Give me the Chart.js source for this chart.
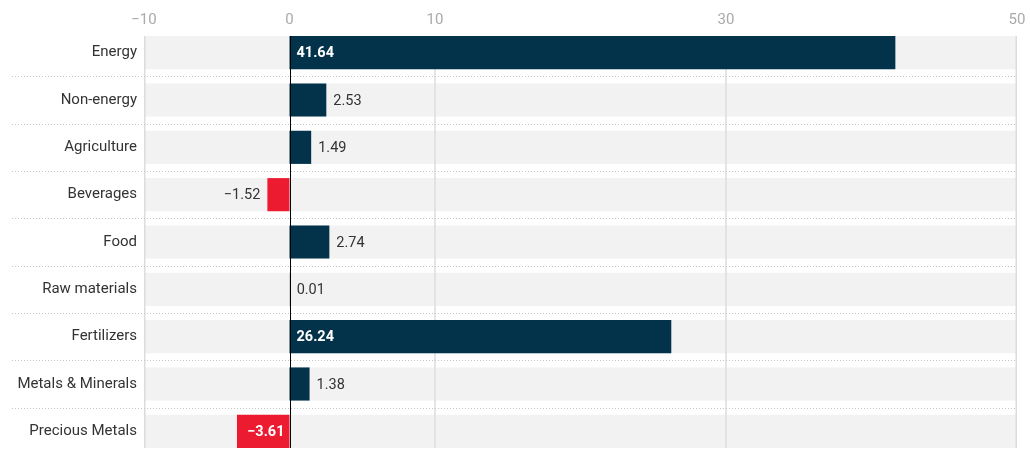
<!DOCTYPE html>
<html>
<head>
<meta charset="utf-8">
<script src="https://cdn.jsdelivr.net/npm/chart.js@4.4.1/dist/chart.umd.min.js"></script>
<style>
  html, body { margin: 0; padding: 0; background: #fff; }
</style>
</head>
<body>
<canvas id="chart" width="1030" height="467"></canvas>
<script>
// Commodity groups, percent change
const categories = ['Energy', 'Non-energy', 'Agriculture', 'Beverages', 'Food',
    'Raw materials', 'Fertilizers', 'Metals & Minerals', 'Precious Metals'];
const changes = [41.64, 2.53, 1.49, -1.52, 2.74, 0.01, 26.24, 1.38, -3.61];
const tickValues = [-10, 0, 10, 30, 50];
const axisMin = -10;
const axisMax = 50;

const navy = '#02334b';
const red = '#ec1b30';
const labelFont = '14.5px Roboto, "Liberation Sans", sans-serif';
const labelFontBold = 'bold 14.5px Roboto, "Liberation Sans", sans-serif';

function fmt(v) {
    return v.toFixed(2).replace('-', '\u2212');
}

// Gridlines, separators, zero line and value labels
const decorPlugin = {
    id: 'decor',
    beforeDatasetDraw(chart, args) {
        // draw the grid on top of the grey bands but under the bars
        if (args.index !== 1) return;
        const ctx = chart.ctx;
        const x = chart.scales.x;
        const bands = chart.getDatasetMeta(0).data;
        const top = bands[0].y - bands[0].height / 2;
        const last = bands[bands.length - 1];
        const bottom = last.y + last.height / 2;
        ctx.save();
        ctx.strokeStyle = '#dcdcdc';
        ctx.lineWidth = 1.5;
        tickValues.forEach(t => {
            if (t === 0) return;
            let px = x.getPixelForValue(t);
            if (t === axisMin) px += 0.75;
            if (t === axisMax) px -= 0.75;
            ctx.beginPath();
            ctx.moveTo(px, top);
            ctx.lineTo(px, bottom);
            ctx.stroke();
        });
        ctx.restore();
    },
    afterDatasetsDraw(chart) {
        const ctx = chart.ctx;
        const x = chart.scales.x;
        const bands = chart.getDatasetMeta(0).data;
        const bars = chart.getDatasetMeta(1).data;
        const top = bands[0].y - bands[0].height / 2;
        const last = bands[bands.length - 1];
        const bottom = last.y + last.height / 2;
        ctx.save();

        // dotted separators between rows
        ctx.strokeStyle = '#c4c4c4';
        ctx.lineWidth = 1;
        ctx.setLineDash([1, 2]);
        for (let i = 0; i < bands.length - 1; i++) {
            const y = Math.round((bands[i].y + bands[i + 1].y) / 2) + 0.5;
            ctx.beginPath();
            ctx.moveTo(12, y);
            ctx.lineTo(x.getPixelForValue(axisMax), y);
            ctx.stroke();
        }
        ctx.setLineDash([]);

        // zero line
        const zx = Math.round(x.getPixelForValue(0)) + 0.5;
        ctx.strokeStyle = '#000';
        ctx.lineWidth = 1;
        ctx.beginPath();
        ctx.moveTo(zx, top);
        ctx.lineTo(zx, bottom);
        ctx.stroke();

        // value labels
        ctx.textBaseline = 'middle';
        bars.forEach((bar, i) => {
            const v = changes[i];
            const inside = Math.abs(v) > 3;
            const text = fmt(v);
            let tx;
            if (inside) {
                ctx.font = labelFontBold;
                ctx.fillStyle = '#fff';
                tx = v >= 0 ? zx + 6 : zx - 6;
            } else {
                ctx.font = labelFont;
                ctx.fillStyle = '#333';
                tx = v >= 0 ? bar.x + 7 : bar.x - 7;
            }
            ctx.textAlign = v >= 0 ? 'left' : 'right';
            ctx.fillText(text, tx, bar.y + 1);
        });
        ctx.restore();
    }
};

const ctx = document.getElementById('chart');

new Chart(ctx, {
    type: 'bar',
    data: {
        labels: categories,
        datasets: [
            {
                // grey band behind each row
                label: 'band',
                data: categories.map(() => [axisMin, axisMax]),
                backgroundColor: '#f2f2f2',
                order: 1,
                grouped: false,
                barPercentage: 0.7,
                categoryPercentage: 1
            },
            {
                label: 'Change',
                data: changes,
                backgroundColor: changes.map(v => v < 0 ? red : navy),
                order: 0,
                grouped: false,
                barPercentage: 0.7,
                categoryPercentage: 1
            }
        ]
    },
    options: {
        indexAxis: 'y',
        responsive: false,
        animation: false,
        layout: {
            padding: { left: 0, right: 13, top: 0, bottom: 12 }
        },
        plugins: {
            legend: { display: false },
            tooltip: { enabled: false }
        },
        scales: {
            x: {
                position: 'top',
                min: axisMin,
                max: axisMax,
                afterBuildTicks: scale => {
                    scale.ticks = tickValues.map(v => ({ value: v }));
                },
                afterFit: scale => { scale.height = 29; },
                grid: { display: false, drawTicks: false },
                border: { display: false },
                ticks: {
                    color: '#aaaaaa',
                    padding: 0,
                    font: { family: 'Roboto', size: 15 },
                    callback: v => String(v).replace('-', '\u2212')
                }
            },
            y: {
                afterFit: scale => {
                    scale.width = 144;
                    scale.paddingTop = 0;
                    scale.paddingBottom = 0;
                },
                grid: { display: false, drawTicks: false },
                border: { display: false },
                ticks: {
                    color: '#333',
                    padding: 7,
                    font: { family: 'Roboto', size: 15 }
                }
            }
        }
    },
    plugins: [decorPlugin]
});
</script>
</body>
</html>
